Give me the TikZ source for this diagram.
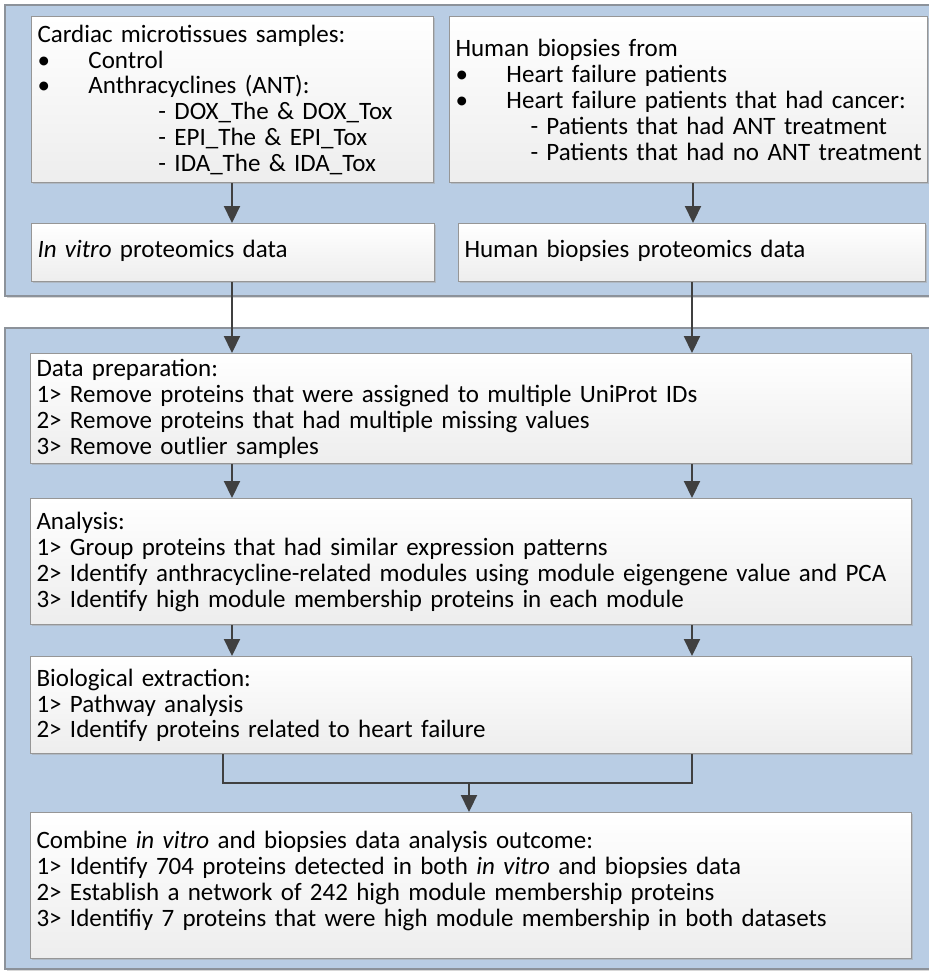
\documentclass[tikz,border=0pt]{standalone}
\usepackage{fontspec}
\setmainfont{Carlito}
\usetikzlibrary{arrows.meta,shadows}
\definecolor{panelblue}{RGB}{185,205,228}
\definecolor{panelline}{RGB}{140,146,154}
\definecolor{boxline}{RGB}{150,150,150}
\definecolor{flow}{RGB}{64,64,64}
\tikzset{
  panel/.style={fill=panelblue,draw=panelline,line width=1.2pt,
    drop shadow={shadow xshift=1.5pt,shadow yshift=-1.5pt,fill=black!30}},
  card/.style={draw=boxline,line width=1pt,top color=white,bottom color=black!7,
    anchor=north west,inner xsep=6pt,inner ysep=0pt,align=left,
    font=\fontsize{25}{25.8}\selectfont,
    drop shadow={shadow xshift=1.2pt,shadow yshift=-1.2pt,fill=black!35}},
  flowline/.style={draw=flow,line width=2.2pt},
  flowarrow/.style={flowline,-{Triangle[width=16pt,length=17pt]}}
}
% box at (x1,y1) with size w x h, text width w - padding
\newcommand{\cardbox}[6]{%
  \node[card,minimum width=#4pt,minimum height=#5pt,text width=#4pt-12pt] (#1) at (#2,#3) {#6};}
% bullet item and indented sub-item, each kept on one line
\newcommand{\bl}[1]{\mbox{\makebox[51pt][l]{\textbullet}#1}}
\newcommand{\sub}[2]{\mbox{\hspace*{#1}- #2}}
\begin{document}
\begin{tikzpicture}[x=1pt,y=-1pt]
\useasboundingbox (0,0) rectangle (929,972);
% background panels
\path[panel] (5,5) rectangle (940,296);
\path[panel] (5,328) rectangle (940,969);
% top panel boxes
\cardbox{micro}{31}{16}{402}{166}{\strut Cardiac microtissues samples:\\
\bl{Control}\\
\bl{Anthracyclines (ANT):}\\
\sub{121pt}{DOX\_The \& DOX\_Tox}\\
\sub{121pt}{EPI\_The \& EPI\_Tox}\\
\sub{121pt}{IDA\_The \& IDA\_Tox}}
\cardbox{biop}{449}{16}{478}{166}{\strut Human biopsies from\\
\bl{Heart failure patients}\\
\bl{Heart failure patients that had cancer:}\\
\sub{75pt}{Patients that had ANT treatment}\\
\sub{75pt}{Patients that had no ANT treatment}}
\cardbox{vitro}{31}{223}{403}{58}{\strut\textit{In vitro} proteomics data}
\cardbox{bprot}{458}{223}{467}{58}{\strut Human biopsies proteomics data}
% lower panel boxes
\cardbox{prep}{30}{353}{881}{110}{\strut Data preparation:\\
1> Remove proteins that were assigned to multiple UniProt IDs\\
2> Remove proteins that had multiple missing values\\
3> Remove outlier samples}
\cardbox{anal}{30}{498}{881}{126}{\strut Analysis:\\
1> Group proteins that had similar expression patterns\\
2> Identify anthracycline-related modules using module eigengene value and PCA\\
3> Identify high module membership proteins in each module}
\cardbox{bio}{30}{656}{881}{97}{\strut Biological extraction:\\
1> Pathway analysis\\
2> Identify proteins related to heart failure}
\cardbox{comb}{30}{812}{881}{146}{\strut Combine \textit{in vitro} and biopsies data analysis outcome:\\
1> Identify 704 proteins detected in both \textit{in vitro} and biopsies data\\
2> Establish a network of 242 high module membership proteins\\
3> Identifiy 7 proteins that were high module membership in both datasets\vspace{10pt}}
% connectors
\draw[flowarrow] (micro.south -| 232,0) -- (vitro.north -| 232,0);
\draw[flowarrow] (biop.south -| 693,0) -- (bprot.north -| 693,0);
\draw[flowarrow] (vitro.south -| 232,0) -- (prep.north -| 232,0);
\draw[flowarrow] (bprot.south -| 692,0) -- (prep.north -| 692,0);
\draw[flowarrow] (prep.south -| 232,0) -- (anal.north -| 232,0);
\draw[flowarrow] (prep.south -| 692,0) -- (anal.north -| 692,0);
\draw[flowarrow] (anal.south -| 232,0) -- (bio.north -| 232,0);
\draw[flowarrow] (anal.south -| 692,0) -- (bio.north -| 692,0);
\coordinate (joinL) at (223,783);
\coordinate (joinR) at (692,783);
\coordinate (joinM) at (469,783);
\draw[flowline,line join=miter] (bio.south -| joinL) -- (joinL) -- (joinR) -- (bio.south -| joinR);
\draw[flowarrow] (joinM) -- (comb.north -| joinM);
\end{tikzpicture}
\end{document}
